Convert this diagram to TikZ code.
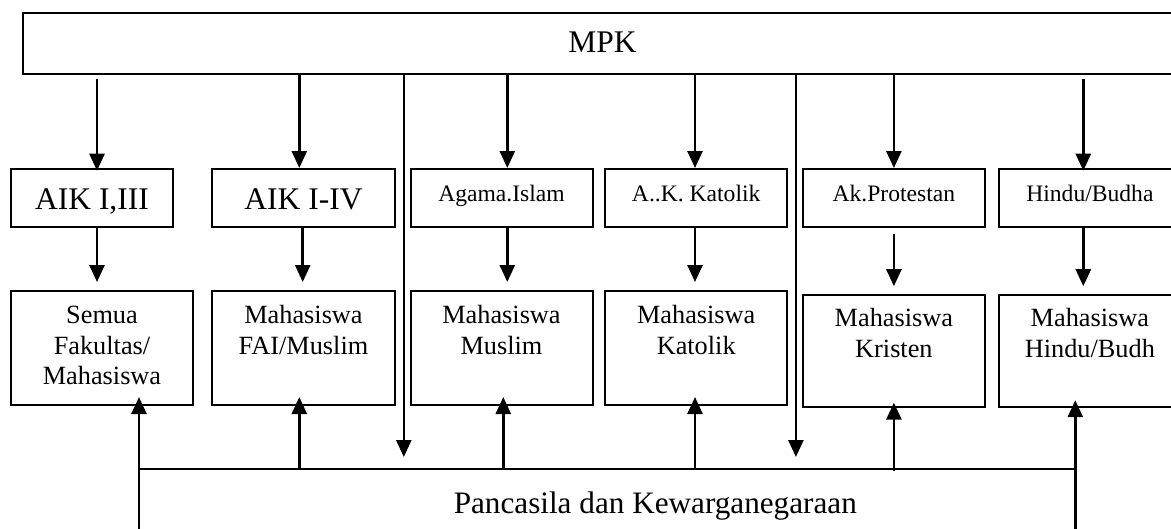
\documentclass[tikz,border=0pt]{standalone}
\usepackage{fontspec}
\setmainfont{Liberation Serif}
\usetikzlibrary{arrows.meta,calc}
\tikzset{
  box/.style={draw,line width=2pt,inner sep=0pt,align=center,minimum width=182pt},
  topbox/.style={box,minimum height=58pt},
  botbox/.style={box,minimum height=114pt,font=\fontsize{26.3}{30.5}\selectfont},
  bigtxt/.style={font=\fontsize{31.5}{36}\selectfont,text height=22pt,text depth=0pt},
  smalltxt/.style={font=\fontsize{23.6}{28}\selectfont,text height=16pt,text depth=8.6pt},
  ar/.style={-{Triangle[length=17pt,width=15pt]},line width=2.6pt},
  ln/.style={line width=2.6pt},
}
\begin{document}
\begin{tikzpicture}[x=1pt,y=-1pt]
  \useasboundingbox (0,0) rectangle (1171,528);
  % head box
  \node[box,bigtxt,text depth=4.3pt,minimum width=1159pt,minimum height=61pt] (mpk) at (602.4,43.4) {MPK};
  % courses
  \node[topbox,bigtxt,minimum width=162pt] (aik1) at (92,198) {AIK I,III};
  \node[topbox,bigtxt,minimum width=183pt] (aik2) at (303.5,198) {AIK I-IV};
  \node[topbox,smalltxt] (islam) at (501.5,198) {Agama.Islam};
  \node[topbox,smalltxt] (katolik) at (696.2,198) {A..K. Katolik};
  \node[topbox,smalltxt] (protestan) at (893.9,198) {Ak.Protestan};
  \node[topbox,smalltxt] (hindu) at (1089.9,198) {Hindu/Budha};
  % students
  \node[botbox] (semua) at (102,348) {\strut Semua\\Fakultas/\\Mahasiswa\strut};
  \node[botbox,minimum width=183pt] (fai) at (303.5,348) {\strut Mahasiswa\\FAI/Muslim\\\strut};
  \node[botbox] (muslim) at (501.5,348) {\strut Mahasiswa\\Muslim\\\strut};
  \node[botbox] (mkatolik) at (696.2,348) {\strut Mahasiswa\\Katolik\\\strut};
  \node[botbox,minimum height=112pt] (kristen) at (893.9,351.2) {\strut Mahasiswa\\Kristen\\\strut};
  \node[botbox,minimum height=112pt] (mhindu) at (1089.9,351.2) {\strut Mahasiswa\\Hindu/Budh\\\strut};
  \node[font=\fontsize{31.2}{36}\selectfont,anchor=base] (pkn) at (655.3,513.3) {Pancasila dan Kewarganegaraan};
  % bus line
  \coordinate (busL) at (139,469);
  \coordinate (busR) at (1075.3,469);
  \coordinate (footL) at (139,540);
  \coordinate (footR) at (1075.3,540);

  % MPK to courses
  \draw[ar,shorten <=3.7pt,shorten >=-2.7pt] ([xshift=5pt]aik1.north |- mpk.south) -- ([xshift=5pt]aik1.north);
  \draw[ar] ([xshift=-4.2pt]aik2.north |- mpk.south) -- ([xshift=-4.2pt]aik2.north);
  \draw[ar] ([xshift=5.8pt]islam.north |- mpk.south) -- ([xshift=5.8pt]islam.north);
  \draw[ar] ([xshift=-1.2pt]katolik.north |- mpk.south) -- ([xshift=-1.2pt]katolik.north);
  \draw[ar] (protestan.north |- mpk.south) -- (protestan.north);
  \draw[ar,shorten <=3.7pt,shorten >=-2.7pt] ([xshift=-6.6pt]hindu.north |- mpk.south) -- ([xshift=-6.6pt]hindu.north);
  % courses to students
  \draw[ar,shorten >=8pt] ([xshift=5pt]aik1.south) -- ([xshift=5pt]aik1.south |- semua.north);
  \draw[ar,shorten >=8pt] ([xshift=-0.8pt]aik2.south) -- ([xshift=-0.8pt]fai.north);
  \draw[ar,shorten >=8pt] ([xshift=5.8pt]islam.south) -- ([xshift=5.8pt]muslim.north);
  \draw[ar,shorten >=8pt] ([xshift=-1.2pt]katolik.south) -- ([xshift=-1.2pt]mkatolik.north);
  \draw[ar,shorten <=6pt,shorten >=8pt] (protestan.south) -- (kristen.north);
  \draw[ar,shorten >=8pt] ([xshift=-6.6pt]hindu.south) -- ([xshift=-6.6pt]mhindu.north);
  % MPK down to the bus
  \draw[ar,shorten >=12pt] ([xshift=-5.7pt]islam.west |- mpk.south) -- ([xshift=-5.7pt]islam.west |- busL);
  \draw[ar,shorten >=12pt] ([xshift=7.7pt]katolik.east |- mpk.south) -- ([xshift=7.7pt]katolik.east |- busL);
  % bus up to students
  \draw[ln] (busL) -- (busR);
  \draw[ar,shorten >=-9pt] (footL) -- (busL |- semua.south);
  \draw[ar,shorten >=-9pt] ([xshift=-4.2pt]fai.south |- busL) -- ([xshift=-4.2pt]fai.south);
  \draw[ar,shorten >=-9pt] ([xshift=1.8pt]muslim.south |- busL) -- ([xshift=1.8pt]muslim.south);
  \draw[ar,shorten >=-9pt] ([xshift=-1.2pt]mkatolik.south |- busL) -- ([xshift=-1.2pt]mkatolik.south);
  \draw[ar,shorten <=-1.7pt,shorten >=-5.6pt] (kristen.south |- busL) -- (kristen.south);
  \draw[ar,shorten >=-8pt] (footR) -- (busR |- mhindu.south);
\end{tikzpicture}
\end{document}
